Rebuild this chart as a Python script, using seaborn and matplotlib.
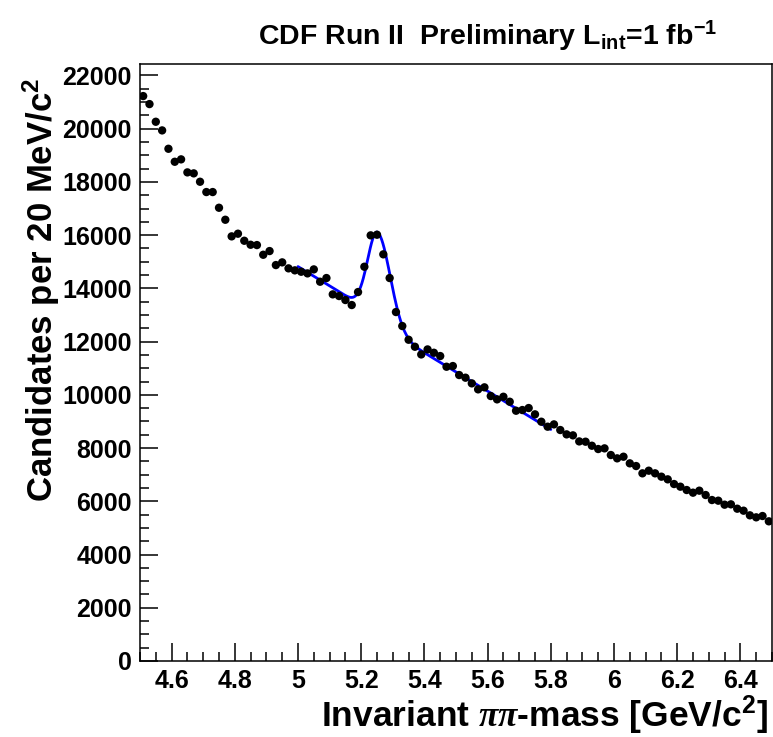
import numpy as np
import pandas as pd
import matplotlib
matplotlib.use("Agg")
import matplotlib.pyplot as plt
from matplotlib.ticker import MultipleLocator, FixedLocator
import seaborn as sns

# ---- data ----
bin_centers = [round(4.51 + 0.02 * i, 2) for i in range(100)]
counts = [21225, 20924, 20260, 19935, 19245, 18757, 18847, 18358, 18321, 18006,
          17619, 17619, 17029, 16578, 15954, 16054, 15789, 15639, 15627, 15263,
          15402, 14876, 14977, 14752, 14677, 14625, 14563, 14713, 14250, 14388,
          13775, 13712, 13562, 13374, 13862, 14813, 15992, 16016, 15279, 14388,
          13111, 12585, 12070, 11807, 11518, 11706, 11581, 11458, 11056, 11082,
          10744, 10644, 10431, 10206, 10282, 9955, 9830, 9928, 9741, 9403,
          9429, 9504, 9267, 8990, 8803, 8890, 8678, 8515, 8478, 8250,
          8239, 8088, 7964, 7989, 7739, 7614, 7675, 7426, 7325, 7051,
          7150, 7051, 6925, 6825, 6649, 6549, 6424, 6324, 6399, 6236,
          6048, 6023, 5873, 5886, 5722, 5647, 5473, 5398, 5447, 5248]

# fit model parameters
fit_range = [5.0, 5.8]
bkg_ref_x = 5.386        # linear background reference point
bkg_ref_y = 11680.0
bkg_slope = -7200.0      # per GeV
step_height = 360.0      # partially reconstructed component
step_center = 5.20
step_width = 0.04
peak_mean = 5.252
peak_amp = 3436.0
peak_sigma_left = 0.032
peak_sigma_right = 0.040

x_ticks = [4.6, 4.8, 5.0, 5.2, 5.4, 5.6, 5.8, 6.0, 6.2, 6.4]
x_tick_labels = ["4.6", "4.8", "5", "5.2", "5.4", "5.6", "5.8", "6", "6.2", "6.4"]
y_ticks = list(range(0, 22001, 2000))

# ---- fit curve ----
xf = np.linspace(fit_range[0], fit_range[1], 400)
sig = np.where(xf < peak_mean, peak_sigma_left, peak_sigma_right)
yf = (bkg_ref_y + bkg_slope * (xf - bkg_ref_x)
      + step_height * 0.5 * (1 - np.tanh((xf - step_center) / step_width))
      + peak_amp * np.exp(-0.5 * ((xf - peak_mean) / sig) ** 2))

df = pd.DataFrame({"mass": bin_centers, "n": counts})
dfit = pd.DataFrame({"mass": xf, "n": yf})

sns.set_style("ticks")
plt.rcParams["font.family"] = ["Liberation Sans", "DejaVu Sans"]
plt.rcParams["font.weight"] = "bold"
plt.rcParams["text.color"] = "black"
plt.rcParams["axes.labelcolor"] = "black"
plt.rcParams["xtick.color"] = "black"
plt.rcParams["ytick.color"] = "black"
plt.rcParams["mathtext.fontset"] = "custom"
plt.rcParams["mathtext.rm"] = "Liberation Sans:bold"
plt.rcParams["mathtext.bf"] = "Liberation Sans:bold"
plt.rcParams["mathtext.it"] = "Liberation Serif:italic"
plt.rcParams["mathtext.default"] = "rm"

fig = plt.figure(figsize=(7.73, 7.37), dpi=100)
fig.patch.set_facecolor("white")
ax = fig.add_axes([140 / 773, 76 / 737, 632 / 773, 597 / 737])
ax.set_facecolor("white")

sns.lineplot(data=dfit, x="mass", y="n", ax=ax, color="#0000ff", linewidth=2.0,
             zorder=2, legend=False)
sns.scatterplot(data=df, x="mass", y="n", ax=ax, color="black", s=36,
                edgecolor="none", linewidth=0, zorder=3, legend=False)

ax.set_xlim(4.5, 6.5)
ax.set_ylim(0, 22430)

ax.xaxis.set_major_locator(FixedLocator(x_ticks))
ax.set_xticklabels(x_tick_labels)
ax.xaxis.set_minor_locator(MultipleLocator(0.05))
ax.yaxis.set_major_locator(FixedLocator(y_ticks))
ax.set_yticklabels([str(v) for v in y_ticks])
ax.yaxis.set_minor_locator(MultipleLocator(500))

ax.tick_params(axis="both", which="major", direction="in", length=13, width=1.1,
               labelsize=18, color="black", labelcolor="black")
ax.tick_params(axis="both", which="minor", direction="in", length=6.5, width=1.1,
               color="black")
ax.tick_params(axis="x", which="both", pad=6, top=False)
ax.tick_params(axis="y", which="both", pad=6, right=False)
for lab in ax.get_xticklabels() + ax.get_yticklabels():
    lab.set_fontweight("bold")
    lab.set_color("black")

for sp in ax.spines.values():
    sp.set_visible(True)
    sp.set_linewidth(1.1)
    sp.set_color("black")

ax.set_xlabel("")
ax.set_ylabel("")

fig.text(768 / 773, 10 / 737, r"Invariant $\mathit{\pi\pi}$-mass [GeV/c$^{2}$]",
         ha="right", va="baseline", fontsize=25.5, fontweight="bold", color="black")
fig.text(41 / 773, 1 - 78 / 737, r"Candidates per 20 MeV/c$^{2}$",
         ha="center", va="top", rotation=90, fontsize=25, fontweight="bold",
         color="black")
fig.text(488 / 773, 1 - 45 / 737, r"CDF Run II  Preliminary L$_{int}$=1 fb$^{-1}$",
         ha="center", va="baseline", fontsize=20.5, fontweight="bold", color="black")

fig.savefig("out.png", dpi=100, facecolor="white")
